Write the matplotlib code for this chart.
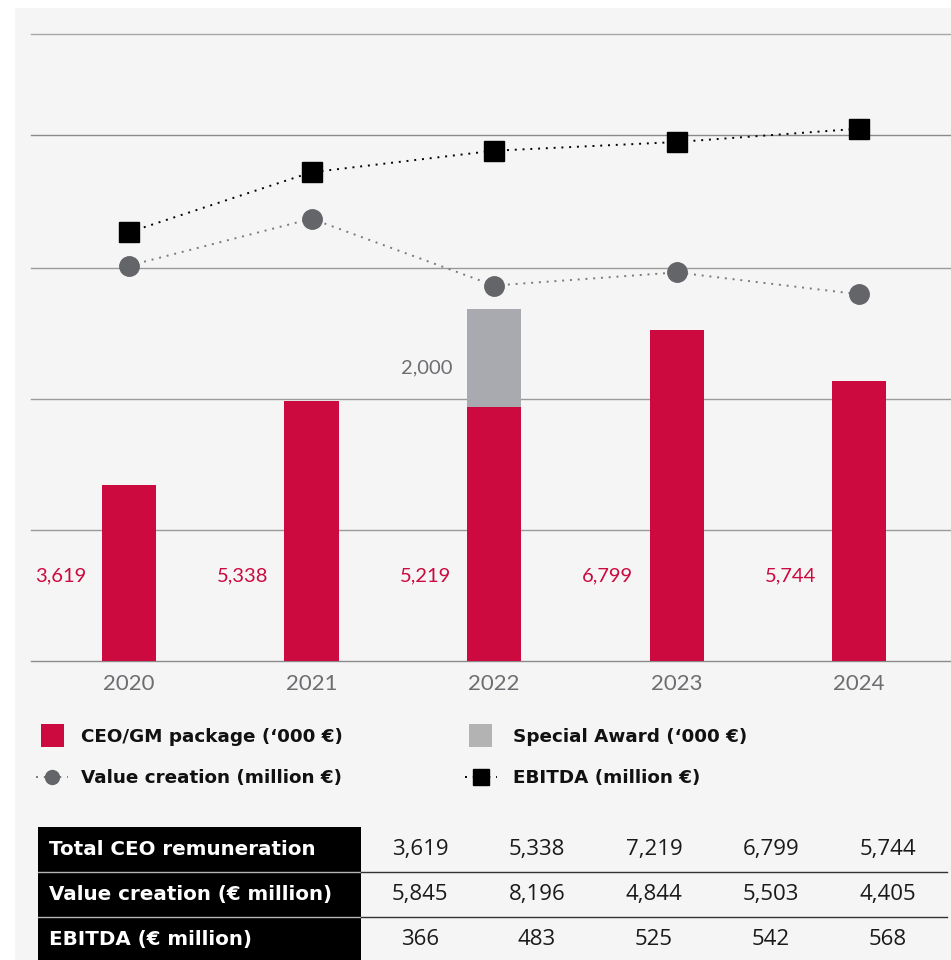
import numpy as np
import matplotlib
matplotlib.use('Agg')
import matplotlib.pyplot as plt
from matplotlib.patches import Rectangle
from matplotlib.lines import Line2D
import matplotlib.transforms as mtransforms

years = ['2020', '2021', '2022', '2023', '2024']
ceo_package = [3619, 5338, 5219, 6799, 5744]      # '000 EUR
special_award = [0, 0, 2000, 0, 0]                # '000 EUR
value_creation = [5845, 8196, 4844, 5503, 4405]   # EUR million
ebitda = [366, 483, 525, 542, 568]                # EUR million

row_labels = ['Total CEO remuneration', 'Value creation (€ million)', 'EBITDA (€ million)']

RED = '#cc0a3f'
GREY_BAR = '#a9aab0'
GREY_TEXT = '#6d6e71'
DOT_GREY = '#636569'
BG = '#f5f5f5'

W, H = 951, 960
fig = plt.figure(figsize=(W / 100, H / 100), dpi=100)
fig.patch.set_facecolor('white')


def fx(px):
    return px / W


def fy(py):
    return 1 - py / H


# panel background
fig.add_artist(Rectangle((fx(15), 0), 1 - fx(15), fy(8), transform=fig.transFigure,
                         facecolor=BG, edgecolor='none', zorder=0))

ax = fig.add_axes([fx(31), fy(661), 1 - fx(31), (661 - 34) / H])
ax.patch.set_visible(False)
x = np.arange(len(years))
bar_w = 0.296

# horizontal rules
for f, c in [(0.0, '#8a8a8a'), (0.2089, '#9a9a9a'), (0.418, '#9a9a9a'),
             (0.6268, '#9a9a9a'), (0.8389, '#8a8a8a'), (1.0, '#a8a8a8')]:
    ax.plot([0, 1], [f, f], transform=ax.transAxes, color=c, lw=1.0, zorder=1,
            clip_on=False)

ax.bar(x, ceo_package, width=bar_w, color=RED, zorder=3)
ax.bar(x, special_award, bottom=ceo_package, width=bar_w, color=GREY_BAR, zorder=3)
ax.set_xlim(-0.537, 4.504)
ax.set_ylim(0, 12875)

blend = mtransforms.blended_transform_factory(ax.transData, ax.transAxes)
for i, v in enumerate(ceo_package):
    ax.text(i - 0.236, 0.1356, f'{v:,}', transform=blend, ha='right', va='center',
            color=RED, fontsize=14.5, family='Lato')
for i, v in enumerate(special_award):
    if v:
        ax.text(i - 0.225, ceo_package[i] + v * 0.4, f'{v:,}', ha='right', va='center',
                color=GREY_TEXT, fontsize=14.5, family='Lato')

ax.set_xticks(x, years)
ax.tick_params(axis='x', length=0, pad=9, labelsize=16, labelcolor=GREY_TEXT)
for lab in ax.get_xticklabels():
    lab.set_family('Lato')
ax.set_yticks([])
for s in ax.spines.values():
    s.set_visible(False)

# value creation and EBITDA on their own hidden scales
ax_vc = ax.twinx()
ax_eb = ax.twinx()
for a in (ax_vc, ax_eb):
    a.set_yticks([])
    for s in a.spines.values():
        s.set_visible(False)

ax_vc.plot(x, value_creation, color='#7a7a7a', lw=1.4, ls=(0, (1, 3)),
           marker='o', ms=14, mfc=DOT_GREY, mec=DOT_GREY, zorder=4)
ax_vc.set_ylim(-13995, 17465)
ax_eb.plot(x, ebitda, color='black', lw=1.4, ls=(0, (1, 3)),
           marker='s', ms=14.4, mfc='black', mec='black', zorder=5)
ax_eb.set_ylim(-470.8, 752.8)

# legend
legend_font = dict(fontsize=13.2, fontweight='bold', family='DejaVu Sans', color='#111111',
                   va='center', ha='left')
fig.add_artist(Rectangle((fx(41), fy(747)), fx(23), 23 / H, transform=fig.transFigure,
                         facecolor=RED, edgecolor='none'))
fig.text(fx(81), fy(737), 'CEO/GM package (‘000 €)', **legend_font)
fig.add_artist(Rectangle((fx(469), fy(747)), fx(23), 23 / H, transform=fig.transFigure,
                         facecolor='#b3b3b3', edgecolor='none'))
fig.text(fx(513), fy(737), 'Special Award (‘000 €)', **legend_font)

fig.add_artist(Line2D([fx(36), fx(68)], [fy(777), fy(777)], transform=fig.transFigure,
                      color='#7a7a7a', lw=1.4, ls=(0, (1, 3))))
fig.add_artist(Line2D([fx(52)], [fy(777)], transform=fig.transFigure, marker='o',
                      ms=10, mfc=DOT_GREY, mec=DOT_GREY, ls='none'))
fig.text(fx(81), fy(778), 'Value creation (million €)', **legend_font)
fig.add_artist(Line2D([fx(465), fx(497)], [fy(777), fy(777)], transform=fig.transFigure,
                      color='black', lw=1.4, ls=(0, (1, 3))))
fig.add_artist(Line2D([fx(481)], [fy(777)], transform=fig.transFigure, marker='s',
                      ms=11.5, mfc='black', mec='black', ls='none'))
fig.text(fx(513), fy(778), 'EBITDA (million €)', **legend_font)

# summary table
totals = [a + b for a, b in zip(ceo_package, special_award)]
table_rows = [totals, value_creation, ebitda]
row_top = [827, 872, 917]
row_bot = [872, 917, 962]
for r, (label, vals) in enumerate(zip(row_labels, table_rows)):
    t, b = row_top[r], row_bot[r]
    fig.add_artist(Rectangle((fx(38), fy(b)), fx(361 - 38), (b - t) / H,
                             transform=fig.transFigure, facecolor='black',
                             edgecolor='none'))
    yc = fy((t + b) / 2)
    fig.text(fx(49), yc, label, color='white', fontsize=14.3, fontweight='bold',
             family='DejaVu Sans', ha='left', va='center')
    for i, v in enumerate(vals):
        fig.text(fx(420 + 117 * i), yc, f'{v:,}', color='#1a1a1a', fontsize=16,
                 family='Open Sans', ha='center', va='center')
for yl in row_top[1:]:
    fig.add_artist(Line2D([fx(38), fx(361)], [fy(yl), fy(yl)], transform=fig.transFigure,
                          color='#b5b5b5', lw=1.0))
    fig.add_artist(Line2D([fx(361), fx(947)], [fy(yl), fy(yl)], transform=fig.transFigure,
                          color='#333333', lw=1.0))

fig.savefig('out.png', dpi=100, facecolor='white')
